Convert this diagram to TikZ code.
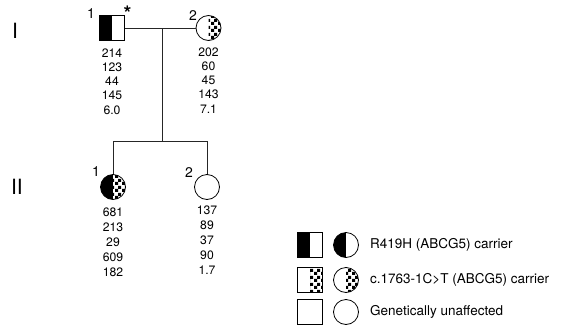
\documentclass[tikz,border=0pt]{standalone}
\usepackage{fontspec}
\setmainfont{TeX Gyre Heros}
\usetikzlibrary{patterns.meta}

% fine checkerboard used for the c.1763-1C>T carrier halves
\tikzdeclarepattern{
  name=checker,
  type=uncolored,
  bounding box={(0pt,0pt) and (6.4pt,6.4pt)},
  tile size={(6.4pt,6.4pt)},
  code={
    \fill (0pt,0pt) rectangle (3.2pt,3.2pt);
    \fill (3.2pt,3.2pt) rectangle (6.4pt,6.4pt);
  }
}

\newcommand{\fillblackleft}{\fill[black] (path picture bounding box.south west) rectangle (path picture bounding box.north);}
\newcommand{\fillcheckright}{\fill[pattern=checker, pattern color=black] (path picture bounding box.south) rectangle (path picture bounding box.north east);}

\tikzset{
  male/.style={draw, rectangle, minimum size=24.5pt, inner sep=0pt, line width=0.8pt},
  female/.style={draw, circle, minimum size=25pt, inner sep=0pt, line width=0.8pt},
  blackleft/.style={path picture={\fillblackleft}},
  checkright/.style={path picture={\fillcheckright}},
  blackcheck/.style={path picture={\fillblackleft\fillcheckright}},
  pedline/.style={line width=0.8pt, draw=black!85},
  idlabel/.style={font=\fontsize{14}{15}\selectfont, inner sep=0pt},
  genlabel/.style={font=\fontsize{21}{22}\selectfont, inner sep=0pt},
  valsI/.style={font=\fontsize{12.2}{14.2}\selectfont, align=center, inner sep=0pt, anchor=north},
  valsII/.style={font=\fontsize{12.2}{15}\selectfont, align=center, inner sep=0pt, anchor=north},
  legtext/.style={font=\fontsize{13.5}{15}\selectfont, inner sep=0pt, anchor=west},
}

\begin{document}
\begin{tikzpicture}[x=1pt,y=-1pt]
\useasboundingbox (0,0) rectangle (565,327);

% generation labels
\node[genlabel] (genI) at (15,31) {I};
\node[genlabel] (genII) at (17,187) {II};

% generation I
\node[male, blackleft] (f) at (112,28) {};
\node[female, checkright] (m) at (208.5,28) {};
\node[idlabel] (f-id) at (91,14) {1};
\node[inner sep=0pt, font=\fontsize{20}{20}\selectfont\bfseries] (f-star) at (127.5,13) {*};
\node[idlabel] (m-id) at (193,16) {2};

\node[valsI] (f-vals) at (112,48.5) {214\\123\\44\\145\\6.0};
\node[valsI] (m-vals) at (208.5,47.5) {202\\60\\45\\143\\7.1};

% mating and sibship lines
\coordinate (mate) at (162,28);
\coordinate (sib) at (162,141);
\coordinate (sib-l) at (113,141);
\coordinate (sib-r) at (207,141);
\draw[pedline] (f.east) -- (m.west);
\draw[pedline] (mate) -- (sib);
\draw[pedline] (sib-l) -- (sib-r);

% generation II
\node[female, blackcheck] (c1) at (113,187) {};
\node[female] (c2) at (207,187) {};
\draw[pedline] (sib-l) -- (c1.north);
\draw[pedline] (sib-r) -- (c2.north);
\node[idlabel] (c1-id) at (96,172) {1};
\node[idlabel] (c2-id) at (189,173) {2};

\node[valsII] (c1-vals) at (113,207.5) {681\\213\\29\\609\\182};
\node[valsII] (c2-vals) at (207,205.5) {137\\89\\37\\90\\1.7};

% legend
\node[male, blackleft] (l1s) at (310,245) {};
\node[female, blackleft] (l1c) at (346,245) {};
\node[legtext] (l1t) at (370,245) {R419H (ABCG5) carrier};

\node[male, checkright] (l2s) at (310,280) {};
\node[female, checkright] (l2c) at (346,280) {};
\node[legtext] (l2t) at (370,280) {c.1763-1C>T (ABCG5) carrier};

\node[male] (l3s) at (310,312) {};
\node[female] (l3c) at (346,312) {};
\node[legtext] (l3t) at (370,312) {Genetically unaffected};
\end{tikzpicture}
\end{document}
